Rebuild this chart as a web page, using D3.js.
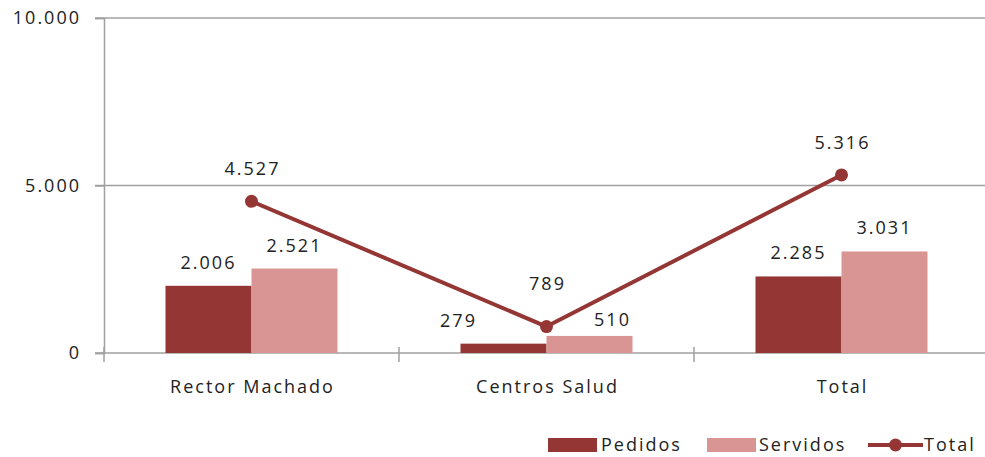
<!DOCTYPE html>
<html>
<head>
<meta charset="utf-8">
<script src="https://cdn.jsdelivr.net/npm/d3@7"></script>
<style>
  html, body { margin: 0; padding: 0; background: #fff; }
  svg text { font-family: "Open Sans", sans-serif; font-size: 18px; fill: #222; letter-spacing: 2px; }
</style>
</head>
<body>
<svg id="chart" width="985" height="457"></svg>
<script>
// Categories and series
const categories = ["Rector Machado", "Centros Salud", "Total"];
const pedidos = [2006, 279, 2285];
const servidos = [2521, 510, 3031];
const total = [4527, 789, 5316];
const yTicks = [0, 5000, 10000];
const seriesNames = ["Pedidos", "Servidos", "Total"];

const colPedidos = "#943634";
const colServidos = "#d99594";
const colLine = "#943634";
const axisCol = "#a0a0a0";

const locale = d3.formatLocale({ decimal: ",", thousands: ".", grouping: [3], currency: ["", " €"] });
const fmt = locale.format(",d");

const svg = d3.select("#chart");
const m = { left: 104, right: 989, top: 18, bottom: 353 };

const x = d3.scaleBand().domain(categories).range([m.left, m.right]).paddingInner(0).paddingOuter(0);
const xSub = d3.scaleBand().domain(["p", "s"]).range([0, x.bandwidth()]).paddingInner(0).paddingOuter(0.715);
const y = d3.scaleLinear().domain([0, 10000]).range([m.bottom, m.top]);

// Gridlines
svg.append("g").selectAll("line").data(yTicks.filter(d => d > 0)).join("line")
  .attr("x1", m.left - 9).attr("x2", 985)
  .attr("y1", d => y(d)).attr("y2", d => y(d))
  .attr("stroke", axisCol).attr("stroke-width", 1.5);

// Y axis
const yAxis = svg.append("g").attr("transform", `translate(${m.left},0)`)
  .call(d3.axisLeft(y).tickValues(yTicks).tickFormat(fmt).tickSize(9).tickPadding(14));
yAxis.select(".domain").attr("stroke", axisCol).attr("stroke-width", 1.5);
yAxis.selectAll(".tick line").attr("stroke", axisCol).attr("stroke-width", 1.5);
yAxis.selectAll(".tick text").attr("font-size", null).attr("font-family", null).attr("fill", null);

// X axis baseline and category separators
svg.append("line").attr("x1", m.left - 9).attr("x2", 985)
  .attr("y1", y(0)).attr("y2", y(0)).attr("stroke", axisCol).attr("stroke-width", 1.5);
const seps = categories.map(c => x(c)).concat([x(categories[categories.length - 1]) + x.bandwidth()]);
svg.append("g").selectAll("line").data(seps).join("line")
  .attr("x1", d => d).attr("x2", d => d)
  .attr("y1", y(0) - 6).attr("y2", y(0) + 9)
  .attr("stroke", axisCol).attr("stroke-width", 1.5);

// Category labels
svg.append("g").selectAll("text").data(categories).join("text")
  .attr("x", d => x(d) + x.bandwidth() / 2 + 1)
  .attr("y", 393)
  .attr("text-anchor", "middle")
  .text(d => d);

// Bars
const barData = [];
categories.forEach((c, i) => {
  barData.push({ c, k: "p", v: pedidos[i], col: colPedidos });
  barData.push({ c, k: "s", v: servidos[i], col: colServidos });
});
svg.append("g").selectAll("rect").data(barData).join("rect")
  .attr("x", d => x(d.c) + xSub(d.k))
  .attr("width", xSub.bandwidth())
  .attr("y", d => y(d.v))
  .attr("height", d => y(0) - y(d.v))
  .attr("fill", d => d.col);

// Bar value labels (small bars get their labels pushed sideways, clear of the line)
const barLabelNudge = { "Centros Salud|p": [-45, 0], "Centros Salud|s": [23, 7] };
svg.append("g").selectAll("text").data(barData).join("text")
  .attr("x", d => x(d.c) + xSub(d.k) + xSub.bandwidth() / 2 + (barLabelNudge[d.c + "|" + d.k] || [0, 0])[0])
  .attr("y", d => y(d.v) - 17 + (barLabelNudge[d.c + "|" + d.k] || [0, 0])[1])
  .attr("text-anchor", "middle")
  .text(d => fmt(d.v));

// Total line
const lineData = categories.map((c, i) => ({ c, v: total[i] }));
const line = d3.line().x(d => x(d.c) + x.bandwidth() / 2).y(d => y(d.v));
svg.append("path").datum(lineData).attr("d", line)
  .attr("fill", "none").attr("stroke", colLine).attr("stroke-width", 4).attr("stroke-linejoin", "round");
svg.append("g").selectAll("circle").data(lineData).join("circle")
  .attr("cx", d => x(d.c) + x.bandwidth() / 2).attr("cy", d => y(d.v))
  .attr("r", 6.5).attr("fill", colLine);

const lineLabelNudge = { "Centros Salud": -11 };
svg.append("g").selectAll("text").data(lineData).join("text")
  .attr("x", d => x(d.c) + x.bandwidth() / 2 + 1)
  .attr("y", d => y(d.v) - 26 + (lineLabelNudge[d.c] || 0))
  .attr("text-anchor", "middle")
  .text(d => fmt(d.v));

// Legend
const lg = svg.append("g");
lg.append("rect").attr("x", 548).attr("y", 438).attr("width", 49).attr("height", 14).attr("fill", colPedidos);
lg.append("text").attr("x", 601).attr("y", 451).text(seriesNames[0]);
lg.append("rect").attr("x", 707).attr("y", 438).attr("width", 49).attr("height", 14).attr("fill", colServidos);
lg.append("text").attr("x", 759).attr("y", 451).text(seriesNames[1]);
lg.append("line").attr("x1", 868).attr("x2", 923).attr("y1", 445).attr("y2", 445)
  .attr("stroke", colLine).attr("stroke-width", 4);
lg.append("circle").attr("cx", 895.5).attr("cy", 445).attr("r", 6.5).attr("fill", colLine);
lg.append("text").attr("x", 924).attr("y", 451).text(seriesNames[2]);
</script>
</body>
</html>
